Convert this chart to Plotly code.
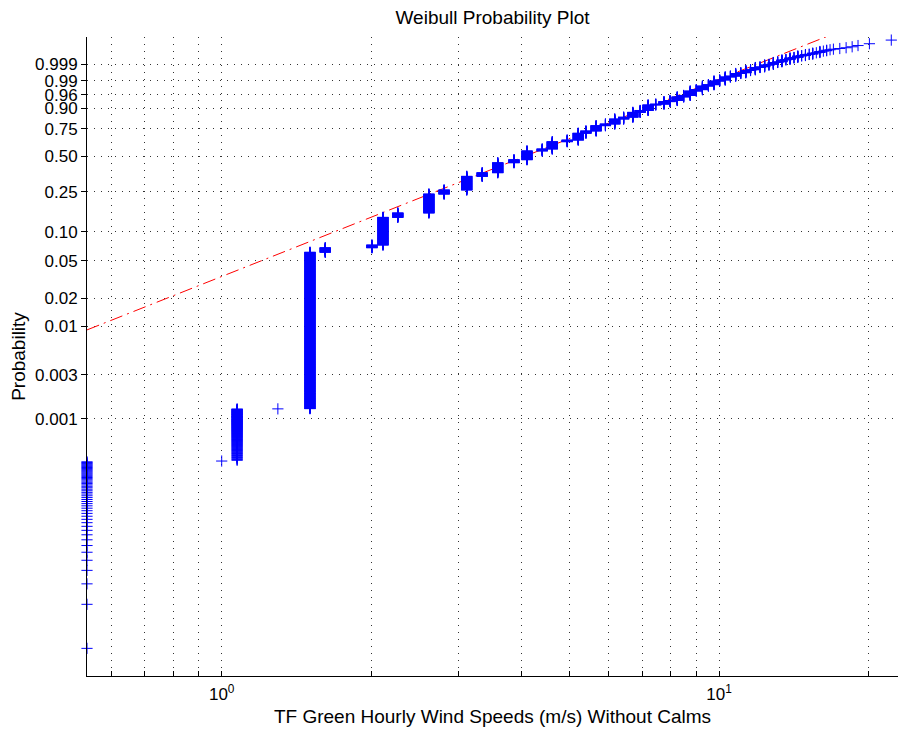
import numpy as np
import plotly.graph_objects as go

# Distinct hourly wind speeds (m/s) recorded at TF Green, calm hours excluded
speeds = [0.536, 1.00, 1.074, 1.297, 1.505, 1.615, 2.005, 2.11, 2.26, 2.61, 2.80,
          3.11, 3.34, 3.59, 3.87, 4.11, 4.41, 4.62, 4.95, 5.21, 5.40, 5.66, 5.91,
          6.17, 6.43, 6.71, 6.94, 7.20, 7.46, 7.75, 7.97, 8.24, 8.49, 8.75, 9.00,
          9.26, 9.52, 9.77, 10.03, 10.29, 10.54, 10.80, 11.06, 11.32, 11.57, 11.83,
          12.09, 12.35, 12.60, 12.86, 13.12, 13.38, 13.63, 13.89, 14.15, 14.40,
          14.66, 14.92, 15.18, 15.43, 15.69, 15.95, 16.21, 16.46, 16.72, 16.98,
          17.49, 18.01, 18.52, 19.03, 20.06, 22.2]

# Number of hourly observations at each speed
counts = [53, 1, 142, 1, 9274, 1107, 712, 10410, 2260, 12680, 3280,
          13150, 3940, 11910, 3830, 11660, 2760, 10270, 2400, 9380, 3160, 7040, 2200,
          6020, 2000, 5220, 1800, 4710, 700, 1770, 800, 2110, 846, 1974, 499,
          1165, 344, 802, 184, 430, 111, 260, 66, 155, 46, 106,
          26, 62, 19, 43, 13, 29, 7, 16, 5, 11,
          2, 6, 2, 5, 1, 4, 1, 2, 1, 1,
          1, 1, 1, 1, 1, 1]

# Weibull reference line parameters (scale a, shape b)
wbl_scale = 4.82
wbl_shape = 2.137

# Probability tick labels
prob_ticks = [0.001, 0.003, 0.01, 0.02, 0.05, 0.10, 0.25, 0.50, 0.75, 0.90, 0.96, 0.99, 0.999]
prob_labels = ["0.001", "0.003", "0.01", "0.02", "0.05", "0.10", "0.25", "0.50",
               "0.75", "0.90", "0.96", "0.99", "0.999"]

# Speed axis grid / tick positions
x_grid = [0.6, 0.7, 0.8, 0.9, 1, 2, 3, 4, 5, 6, 7, 8, 9, 10, 20]
x_labels = {1: "10<sup>0</sup>", 10: "10<sup>1</sup>"}

# ---- plotting positions (i - 0.5)/n, y scale is -ln(1 - p) on a log axis ----
n = int(np.sum(counts))
xs, zs = [], []
start = 0
for s, c in zip(speeds, counts):
    ranks = np.arange(start + 1, start + c + 1)
    surv = (n - ranks + 0.5) / n
    z = -np.log(surv)
    logz = np.log10(z)
    # markers closer than a fraction of a pixel overlap exactly; keep one of each
    bins = np.round(logz / 0.003)
    _, keep = np.unique(bins, return_index=True)
    keep = np.union1d(keep, [0, c - 1])
    xs.extend([s] * len(keep))
    zs.extend(z[keep].tolist())
    start += c

x_lo = min(speeds)
x_hi = 22.9
ref_x = np.array([x_lo, x_hi])
ref_z = (ref_x / wbl_scale) ** wbl_shape

fig = go.Figure()
fig.add_trace(go.Scatter(
    x=ref_x, y=ref_z, mode="lines",
    line=dict(color="rgb(255,0,0)", width=1, dash="13px,5px,2px,5px"),
    hoverinfo="skip",
))
fig.add_trace(go.Scatter(
    x=xs, y=zs, mode="markers", cliponaxis=False,
    marker=dict(symbol="cross-thin", size=8, color="rgb(0,0,255)",
                line=dict(color="rgb(0,0,255)", width=1)),
))

font_family = "Liberation Sans, Arial, Helvetica, sans-serif"
grid_col = "#333333"

fig.update_layout(
    width=898, height=740,
    margin=dict(l=87, r=0, t=37, b=64),
    paper_bgcolor="white", plot_bgcolor="white",
    showlegend=False,
    font=dict(family=font_family, size=17, color="black"),
    title=dict(text="Weibull Probability Plot", x=0.5, xref="paper",
               y=1 - 17 / 740, yref="container", yanchor="middle",
               font=dict(size=19, color="black")),
    xaxis=dict(
        type="log",
        range=[np.log10(x_lo), np.log10(x_hi)],
        tickvals=x_grid,
        ticktext=[x_labels.get(v, "") for v in x_grid],
        ticks="inside", ticklen=5, tickcolor="black",
        ticklabelstandoff=3,
        showline=True, linecolor="black", linewidth=1, mirror=False,
        showgrid=True, gridcolor=grid_col, griddash="1px,6px", gridwidth=1,
        zeroline=False,
        tickfont=dict(size=17),
        title=dict(text="TF Green Hourly Wind Speeds (m/s) Without Calms",
                   font=dict(size=19), standoff=6),
    ),
    yaxis=dict(
        type="log",
        range=[-5.788, 1.1351],
        tickvals=[-np.log1p(-p) for p in prob_ticks],
        ticktext=prob_labels,
        ticks="outside", ticklen=5, tickcolor="black",
        showline=True, linecolor="black", linewidth=1, mirror=False,
        showgrid=True, gridcolor=grid_col, griddash="1px,6px", gridwidth=1,
        zeroline=False,
        tickfont=dict(size=17),
        title=dict(text="Probability", font=dict(size=19), standoff=4),
    ),
)

fig.write_html("out.html")
